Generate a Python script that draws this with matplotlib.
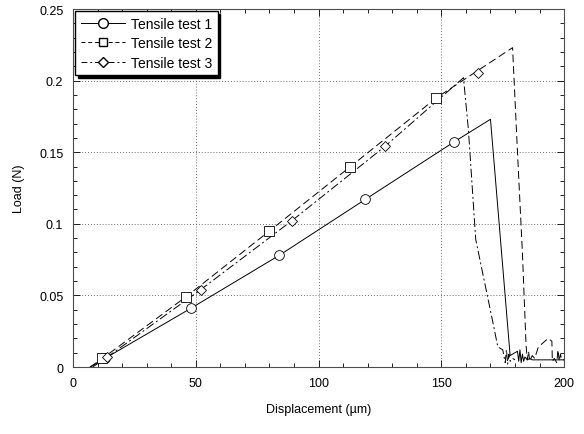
import numpy as np
import matplotlib
matplotlib.use("Agg")
import matplotlib.pyplot as plt
from matplotlib.lines import Line2D
from matplotlib.ticker import MultipleLocator

plt.rcParams['font.family'] = ['Liberation Sans', 'DejaVu Sans']

# test 1 (solid)
x1 = [7, 13, 48, 84, 119, 155, 170, 178, 181, 181.5, 182, 182.5, 183, 183.5, 184, 185, 186,
      187, 188, 190, 192, 194, 196, 198, 200]
y1 = [0, 0.006, 0.041, 0.078, 0.117, 0.157, 0.173, 0.008, 0.011, 0.004, 0.012, 0.003, 0.009,
      0.004, 0.007, 0.005, 0.006, 0.005, 0.005, 0.005, 0.005, 0.005, 0.005, 0.005, 0.005]
m1x = [13, 48, 84, 119, 155]
m1y = [0.006, 0.041, 0.078, 0.117, 0.157]

# test 2 (dashed)
x2 = [7, 12, 46, 80, 113, 148, 179, 181, 183, 184.5, 185, 185.5, 186, 187, 188, 189.5, 193.5,
      195, 195.2, 196, 197, 197.5, 198, 198.5, 199, 200]
y2 = [0, 0.006, 0.049, 0.095, 0.14, 0.188, 0.223, 0.15, 0.08, 0.015, 0.005, 0.011, 0.004, 0.008,
      0.006, 0.014, 0.02, 0.018, 0.004, 0.006, 0.003, 0.012, 0.004, 0.009, 0.005, 0.005]
m2x = [12, 46, 80, 113, 148]
m2y = [0.006, 0.049, 0.095, 0.14, 0.188]

# test 3 (dash-dot)
x3 = [8, 14, 52, 89, 127, 159, 161, 164, 171, 173, 175, 176, 176.5, 177, 177.5, 178, 179, 180]
y3 = [0, 0.007, 0.054, 0.102, 0.154, 0.202, 0.166, 0.089, 0.031, 0.014, 0.012, 0.003, 0.012,
      0.002, 0.009, 0.004, 0.006, 0.005]
m3x = [14, 52, 89, 127, 165]
m3y = [0.007, 0.054, 0.102, 0.154, 0.205]

labels = ['Tensile test 1', 'Tensile test 2', 'Tensile test 3']

fig = plt.figure(figsize=(5.84, 4.35), dpi=100)
ax = fig.add_axes([0.125, 0.154, 0.841, 0.823])

lw = 0.7
ax.plot(x1, y1, color='k', lw=lw)
ax.plot(x2, y2, color='k', lw=lw, dashes=(8, 4))
ax.plot(x3, y3, color='k', lw=lw, dashes=(9, 3, 2, 3))
mk = dict(ls='none', mfc='white', mec='k', mew=0.6, ms=7)
ax.plot(m1x, m1y, marker='o', **mk)
ax.plot(m2x, m2y, marker='s', **mk)
ax.plot(m3x, m3y, marker='D', **dict(mk, ms=5.5))

ax.set_xlim(0, 200)
ax.set_ylim(0, 0.25)
ax.xaxis.set_major_locator(MultipleLocator(50))
ax.xaxis.set_minor_locator(MultipleLocator(10))
ax.yaxis.set_major_locator(MultipleLocator(0.05))
ax.yaxis.set_minor_locator(MultipleLocator(0.01))
ax.set_yticks([0, 0.05, 0.1, 0.15, 0.2, 0.25])
ax.set_yticklabels(['0', '0.05', '0.1', '0.15', '0.2', '0.25'])
ax.tick_params(which='both', direction='in', top=True, right=True, labelsize=9, width=0.6)
ax.tick_params(which='major', length=5, pad=7)
ax.tick_params(which='minor', length=3)
ax.grid(True, which='major', color='0.25', lw=0.6, ls=(0, (1, 2.5)))
for s in ax.spines.values():
    s.set_linewidth(0.8)
    s.set_color('0.3')

ax.set_xlabel('Displacement (\u00b5m)', fontsize=9, labelpad=10)
ax.set_ylabel('Load (N)', fontsize=9, labelpad=10)

handles = [
    Line2D([], [], color='k', lw=lw, marker='o', mfc='white', mec='k', ms=7),
    Line2D([], [], color='k', lw=lw, dashes=(4, 3), marker='s', mfc='white', mec='k', ms=6),
    Line2D([], [], color='k', lw=lw, dashes=(6, 3, 2, 3), marker='D', mfc='white', mec='k', ms=5),
]
leg = ax.legend(handles, labels, loc='upper left', fontsize=10, fancybox=False,
                edgecolor='k', framealpha=1, borderaxespad=0.15, handlelength=3.2,
                handletextpad=0.4, labelspacing=0.4,
                shadow={'color': 'black', 'alpha': 1})
leg.get_frame().set_linewidth(1.0)

fig.savefig('out.png', dpi=100)
